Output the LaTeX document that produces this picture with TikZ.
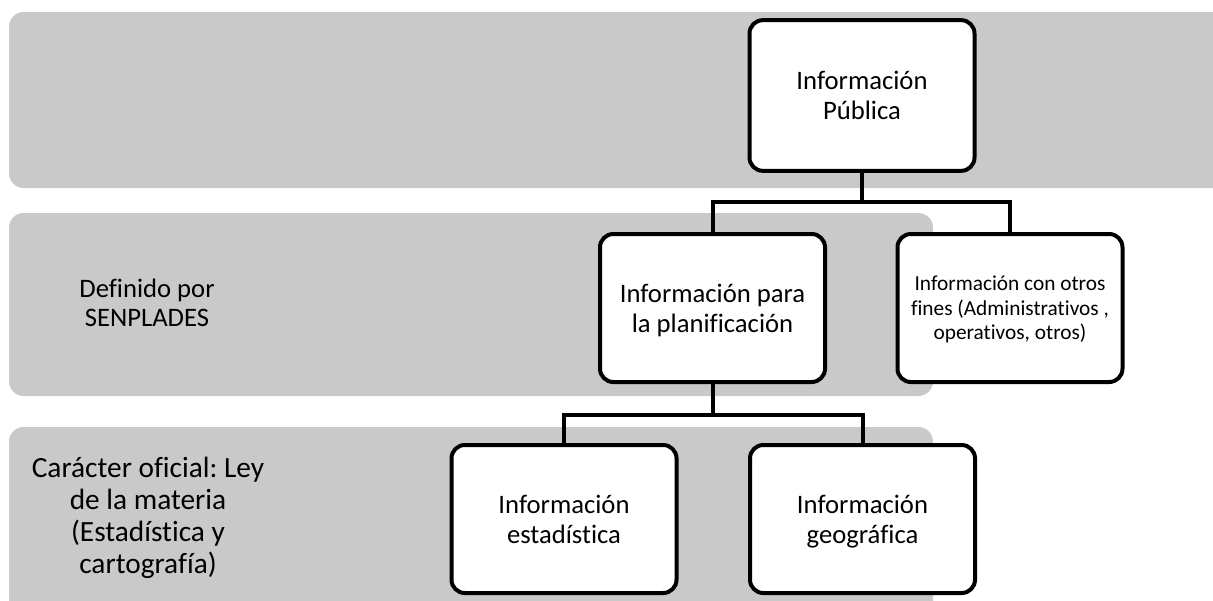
\documentclass[tikz,border=0pt]{standalone}
\usepackage{fontspec}
\setmainfont{Carlito}[Ligatures=NoCommon]
\usetikzlibrary{calc}
\definecolor{bandgray}{RGB}{201,201,201}
\newcommand\mytopstrut{\rule{0pt}{0.8\baselineskip}}
\newcommand\mybotstrut{\rule[-0.2\baselineskip]{0pt}{0pt}}
\frenchspacing
\begin{document}
\begin{tikzpicture}[x=0.75pt,y=-0.75pt,
  band/.style={fill=bandgray, draw=none, rounded corners=11pt},
  box/.style={draw=black, line width=3pt, fill=white, rounded corners=10pt,
    minimum width=168.75pt, minimum height=111pt, inner sep=0pt, align=center,
    font=\fontsize{20}{22.5}\selectfont},
  smallbox/.style={box, font=\fontsize{16}{18.4}\selectfont},
  bandlabel/.style={align=center, inner sep=0pt},
  conn/.style={draw=black, line width=3pt}]
\useasboundingbox (0,0) rectangle (1213,600);
\clip (0,0) rectangle (1213,600);
% bands
\fill[band] (9,12) rectangle (1250,188);
\fill[band] (9,213) rectangle (933,396);
\fill[band] (9,427) rectangle (933,650);
% band labels
\node[bandlabel, font=\fontsize{20}{21.75}\selectfont] (senp) at (147,303) {Definido por\\SENPLADES};
\node[bandlabel, font=\fontsize{22}{24}\selectfont] (ley) at (148,518) {Carácter oficial: Ley\\de la materia\\(Estadística y\\cartografía)};
% boxes
\node[box, minimum height=113pt] (pub) at (862,95.5) {\mytopstrut Información\\Pública\mybotstrut};
\node[box] (plan) at (712.5,308) {\mytopstrut Información para\\la planificación\mybotstrut};
\node[smallbox] (otros) at (1010,308) {\mytopstrut Información con otros\\fines (Administrativos ,\\operativos, otros)\mybotstrut};
\node[box] (est) at (564,519) {\mytopstrut Información\\estadística\mybotstrut};
\node[box] (geo) at (862.5,519) {\mytopstrut Información\\geográfica\mybotstrut};
% junctions
\coordinate (j1) at ($(pub.south)+(0,29)$);
\coordinate (j2) at ($(plan.south)+(0,31)$);
% connectors
\draw[conn] (pub.south) -- (j1);
\draw[conn] (plan.north) |- (j1) -| (otros.north);
\draw[conn] (plan.south) -- (j2);
\draw[conn] (est.north) |- (j2) -| (geo.north);
\end{tikzpicture}
\end{document}
